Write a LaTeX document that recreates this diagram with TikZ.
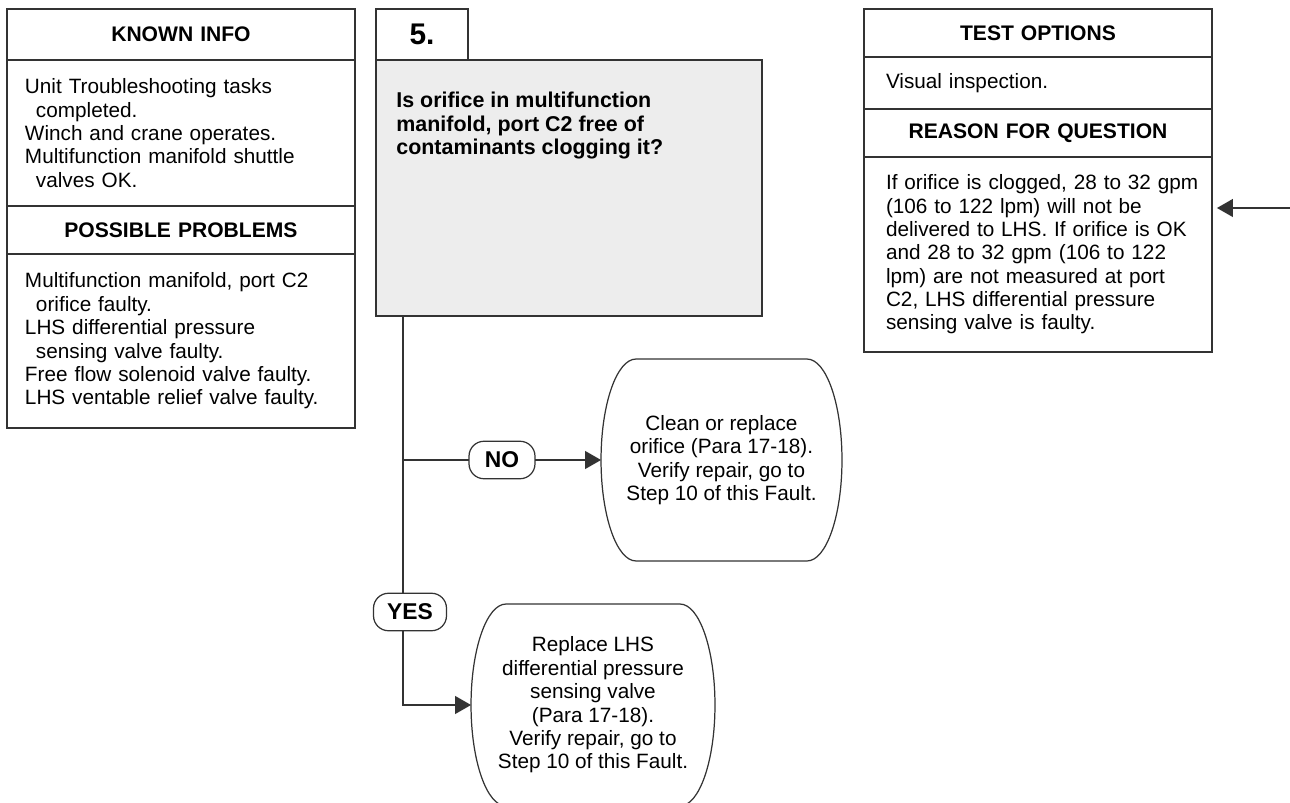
\documentclass[tikz,border=0pt]{standalone}
\usepackage{fontspec}
\setmainfont{Liberation Sans}
\usetikzlibrary{arrows.meta}

\newcommand{\bodyfont}{\fontsize{11.8}{13.3}\selectfont}
\newcommand{\headfont}{\fontsize{12}{14}\selectfont\bfseries}
\newcommand{\askfont}{\fontsize{12.2}{13.3}\selectfont\bfseries}
\newcommand{\tagfont}{\fontsize{13}{15}\selectfont\bfseries}

\tikzset{
  rim/.style={draw=black!80, line width=0.7pt},
  pointer/.style={-{Triangle[length=0.32cm,width=0.36cm]}},
  cell/.style={rim, anchor=north west, inner sep=0pt, outer sep=0pt, minimum width=6.96cm},
  headcell/.style={cell, text width=6.96cm, align=center, font=\headfont},
  textcell/.style={cell, align=left, font=\bodyfont},
  answer/.style={rim, fill=white, rounded corners=0.3cm, inner sep=0pt, outer sep=0pt,
    minimum height=0.75cm, font=\tagfont},
  action/.style={inner sep=0pt, outer sep=0pt, align=center, font=\bodyfont,
    minimum height=4.04cm},
}

% flat top and bottom, half ellipses left and right
\newcommand{\ovalrim}[1]{%
  \draw[rim] ([xshift=0.7cm]#1.north west) -- ([xshift=-0.7cm]#1.north east)
    arc[start angle=90, end angle=-90, x radius=0.7cm, y radius=2.02cm]
    -- ([xshift=0.7cm]#1.south west)
    arc[start angle=270, end angle=90, x radius=0.7cm, y radius=2.02cm] -- cycle;}

\begin{document}
\begin{tikzpicture}[x=0.02cm, y=-0.02cm]
  \useasboundingbox (0,0) rectangle (1290,803);

  % left column
  \node[headcell, minimum height=1.02cm] (known) at (7,9) {KNOWN INFO};
  \node[textcell, minimum height=2.92cm, text width=6.24cm] (knownbody) at (7,60)
    {Unit Troubleshooting tasks\\
     \hspace*{0.22cm}completed.\\
     Winch and crane operates.\\
     Multifunction manifold shuttle\\
     \hspace*{0.22cm}valves OK.};
  \node[headcell, minimum height=0.96cm] (probs) at (7,206) {POSSIBLE PROBLEMS};
  \node[textcell, minimum height=3.48cm, text width=6.24cm] (probsbody) at (7,254)
    {Multifunction manifold, port C2\\
     \hspace*{0.22cm}orifice faulty.\\
     LHS differential pressure\\
     \hspace*{0.22cm}sensing valve faulty.\\
     Free flow solenoid valve faulty.\\
     LHS ventable relief valve faulty.};

  % question
  \node[rim, anchor=north west, inner sep=0pt, outer sep=0pt, minimum width=1.84cm,
    minimum height=1.02cm, font=\fontsize{17}{20}\selectfont\bfseries] (stepno) at (376,9) {5.};
  \node[rim, fill=black!7, anchor=north west, inner sep=0pt, outer sep=0pt,
    minimum width=7.72cm, minimum height=5.12cm] (quest) at (376,60) {};
  \node[anchor=north west, inner sep=0pt, align=left, font=\askfont] (asktext) at (396,92)
    {Is orifice in multifunction\\
     manifold, port C2 free of\\
     contaminants clogging it?};

  % right column
  \node[headcell, minimum height=0.96cm] (tests) at (864,9) {TEST OPTIONS};
  \node[textcell, minimum height=1.04cm, text width=6.08cm] (testsbody) at (864,57)
    {Visual inspection.};
  \node[headcell, minimum height=0.96cm] (reason) at (864,109) {REASON FOR QUESTION};
  \node[textcell, minimum height=3.9cm, text width=6.08cm] (reasonbody) at (864,157)
    {\mbox{If orifice is clogged, 28 to 32 gpm}\\
     (106 to 122 lpm) will not be\\
     delivered to LHS. If orifice is OK\\
     and 28 to 32 gpm (106 to 122\\
     lpm) are not measured at port\\
     C2, LHS differential pressure\\
     sensing valve is faulty.};

  % answers
  \node[action, minimum width=4.82cm] (clean) at (721.5,460)
    {Clean or replace\\
     orifice (Para 17-18).\\
     Verify repair, go to\\
     Step 10 of this Fault.};
  \ovalrim{clean}
  \node[action, minimum width=4.88cm] (replace) at (593,705)
    {Replace LHS\\
     differential pressure\\
     sensing valve\\
     (Para 17-18).\\
     Verify repair, go to\\
     Step 10 of this Fault.};
  \ovalrim{replace}

  \coordinate (tee) at (403,316);
  \coordinate (feed) at (1290,208);

  \node[answer, minimum width=1.32cm] (no) at (502,460) {NO};
  \draw[rim] (tee) |- (no.west);
  \draw[rim, pointer] (tee) |- (replace.west);
  \draw[rim, pointer] (no.east) -- (clean.west);
  \node[answer, minimum width=1.46cm] (yes) at (410,612) {YES};

  \draw[rim, pointer, shorten >=0.1cm] (feed) -- (feed -| reasonbody.east);
\end{tikzpicture}
\end{document}
